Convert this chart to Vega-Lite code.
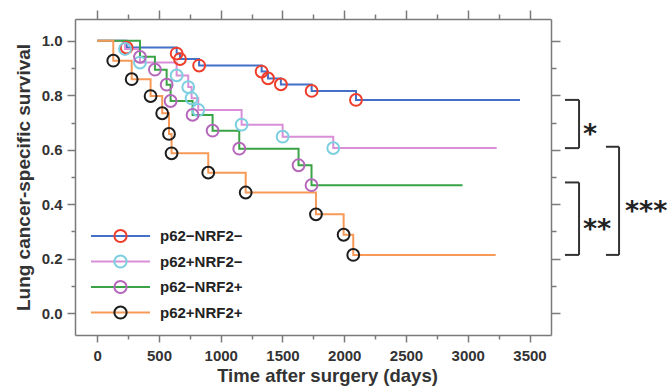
{
  "$schema": "https://vega.github.io/schema/vega-lite/v6.json",
  "width": 476,
  "height": 316,
  "autosize": {"type": "none"},
  "padding": {"left": 75, "top": 19, "right": 121, "bottom": 57},
  "background": "white",
  "config": {
    "view": {"stroke": null},
    "axis": {
      "grid": false,
      "domainColor": "#7a7a7a",
      "domainWidth": 1.5,
      "tickColor": "#7a7a7a",
      "tickWidth": 1.5,
      "labelFont": "Liberation Sans",
      "labelFontSize": 15,
      "labelFontWeight": "bold",
      "labelColor": "#333333",
      "labelFlush": false,
      "titleFont": "Liberation Sans",
      "titleFontWeight": "bold",
      "titleColor": "#333333"
    }
  },
  "datasets": {
    "km": [
      {"group": "p62−NRF2−", "t": 0, "s": 1.0, "ev": 0},
      {"group": "p62−NRF2−", "t": 238, "s": 0.975, "ev": 1},
      {"group": "p62−NRF2−", "t": 643, "s": 0.953, "ev": 1},
      {"group": "p62−NRF2−", "t": 670, "s": 0.933, "ev": 1},
      {"group": "p62−NRF2−", "t": 825, "s": 0.909, "ev": 1},
      {"group": "p62−NRF2−", "t": 1331, "s": 0.887, "ev": 1},
      {"group": "p62−NRF2−", "t": 1383, "s": 0.862, "ev": 1},
      {"group": "p62−NRF2−", "t": 1487, "s": 0.840, "ev": 1},
      {"group": "p62−NRF2−", "t": 1736, "s": 0.816, "ev": 1},
      {"group": "p62−NRF2−", "t": 2095, "s": 0.783, "ev": 1},
      {"group": "p62−NRF2−", "t": 3423, "s": 0.783, "ev": 0},
      {"group": "p62+NRF2−", "t": 0, "s": 1.0, "ev": 0},
      {"group": "p62+NRF2−", "t": 225, "s": 0.970, "ev": 1},
      {"group": "p62+NRF2−", "t": 346, "s": 0.920, "ev": 1},
      {"group": "p62+NRF2−", "t": 643, "s": 0.873, "ev": 1},
      {"group": "p62+NRF2−", "t": 737, "s": 0.830, "ev": 1},
      {"group": "p62+NRF2−", "t": 764, "s": 0.789, "ev": 1},
      {"group": "p62+NRF2−", "t": 818, "s": 0.746, "ev": 1},
      {"group": "p62+NRF2−", "t": 1169, "s": 0.692, "ev": 1},
      {"group": "p62+NRF2−", "t": 1501, "s": 0.648, "ev": 1},
      {"group": "p62+NRF2−", "t": 1911, "s": 0.606, "ev": 1},
      {"group": "p62+NRF2−", "t": 3234, "s": 0.606, "ev": 0},
      {"group": "p62−NRF2+", "t": 0, "s": 1.0, "ev": 0},
      {"group": "p62−NRF2+", "t": 346, "s": 0.941, "ev": 1},
      {"group": "p62−NRF2+", "t": 467, "s": 0.894, "ev": 1},
      {"group": "p62−NRF2+", "t": 562, "s": 0.839, "ev": 1},
      {"group": "p62−NRF2+", "t": 594, "s": 0.779, "ev": 1},
      {"group": "p62−NRF2+", "t": 772, "s": 0.728, "ev": 1},
      {"group": "p62−NRF2+", "t": 934, "s": 0.670, "ev": 1},
      {"group": "p62−NRF2+", "t": 1150, "s": 0.604, "ev": 1},
      {"group": "p62−NRF2+", "t": 1630, "s": 0.543, "ev": 1},
      {"group": "p62−NRF2+", "t": 1735, "s": 0.470, "ev": 1},
      {"group": "p62−NRF2+", "t": 2958, "s": 0.470, "ev": 0},
      {"group": "p62+NRF2+", "t": 0, "s": 1.0, "ev": 0},
      {"group": "p62+NRF2+", "t": 130, "s": 0.927, "ev": 1},
      {"group": "p62+NRF2+", "t": 279, "s": 0.859, "ev": 1},
      {"group": "p62+NRF2+", "t": 432, "s": 0.797, "ev": 1},
      {"group": "p62+NRF2+", "t": 526, "s": 0.734, "ev": 1},
      {"group": "p62+NRF2+", "t": 581, "s": 0.658, "ev": 1},
      {"group": "p62+NRF2+", "t": 602, "s": 0.587, "ev": 1},
      {"group": "p62+NRF2+", "t": 899, "s": 0.516, "ev": 1},
      {"group": "p62+NRF2+", "t": 1202, "s": 0.443, "ev": 1},
      {"group": "p62+NRF2+", "t": 1771, "s": 0.363, "ev": 1},
      {"group": "p62+NRF2+", "t": 1995, "s": 0.288, "ev": 1},
      {"group": "p62+NRF2+", "t": 2073, "s": 0.214, "ev": 1},
      {"group": "p62+NRF2+", "t": 3226, "s": 0.214, "ev": 0}
    ],
    "br": [
      {"id": "a", "stars": "*", "top": 0.783, "bottom": 0.606},
      {"id": "b", "stars": "**", "top": 0.48, "bottom": 0.214},
      {"id": "c", "stars": "***", "top": 0.611, "bottom": 0.214}
    ]
  },
  "layer": [
    {
      "data": {"name": "km"},
      "mark": {"type": "line", "interpolate": "step-after", "strokeWidth": 2},
      "encoding": {
        "x": {
          "field": "t", "type": "quantitative",
          "scale": {"domain": [-180, 3674], "nice": false, "zero": false},
          "axis": {"orient": "bottom", "values": [0, 500, 1000, 1500, 2000, 2500, 3000, 3500], "format": "d", "tickSize": 7, "labelPadding": 6, "title": "Time after surgery (days)", "titleFontSize": 18.5, "titlePadding": 3, "titleX": 252}
        },
        "y": {
          "field": "s", "type": "quantitative",
          "scale": {"domain": [-0.08, 1.08], "nice": false, "zero": false},
          "axis": {"orient": "left", "values": [0, 0.2, 0.4, 0.6, 0.8, 1.0], "format": ".1f", "tickSize": 8, "labelPadding": 5, "title": "Lung cancer-specific survival", "titleFontSize": 19, "titlePadding": 8}
        },
        "color": {
          "field": "group", "type": "nominal",
          "scale": {"domain": ["p62−NRF2−", "p62+NRF2−", "p62−NRF2+", "p62+NRF2+"], "range": ["#4470c8", "#d88fd8", "#3aa346", "#f79a58"]},
          "legend": {"orient": "none", "legendX": 38, "legendY": 209.5, "title": null, "direction": "vertical", "padding": 0, "symbolType": "M-4.82,0H4.82", "symbolSize": 150, "symbolStrokeWidth": 2, "labelExpr": "''", "labelFont": "Liberation Sans", "labelFontSize": 15, "labelFontWeight": "bold", "labelOffset": 32, "rowPadding": 9.5}
        }
      }
    },
    {
      "data": {"name": "km"},
      "transform": [{"filter": "datum.ev == 1"}],
      "mark": {"type": "point", "filled": false, "size": 140, "strokeWidth": 2, "opacity": 1},
      "encoding": {
        "x": {
          "field": "t", "type": "quantitative",
          "scale": {"domain": [-180, 3674], "nice": false, "zero": false},
          "axis": {"orient": "top", "values": [0, 500, 1000, 1500, 2000, 2500, 3000, 3500], "tickSize": 9, "labels": false, "title": null}
        },
        "y": {
          "field": "s", "type": "quantitative",
          "scale": {"domain": [-0.08, 1.08], "nice": false, "zero": false},
          "axis": {"orient": "right", "values": [0, 0.2, 0.4, 0.6, 0.8, 1.0], "tickSize": 9, "labels": false, "title": null}
        },
        "stroke": {
          "field": "group", "type": "nominal",
          "sort": ["p62−NRF2−", "p62+NRF2−", "p62−NRF2+", "p62+NRF2+"],
          "scale": {"range": ["#ee3d2b", "#7ccfe0", "#b567bb", "#1d1d1d"]},
          "legend": {"orient": "none", "legendX": 38, "legendY": 209.5, "title": null, "direction": "vertical", "padding": 0, "symbolType": "circle", "symbolSize": 150, "symbolStrokeWidth": 2, "labelFont": "Liberation Sans", "labelFontSize": 15, "labelFontWeight": "bold", "labelColor": "#222222", "labelOffset": 32, "rowPadding": 4.5}
        }
      }
    },
    {
      "data": {"name": "br"},
      "transform": [{"filter": "datum.id != 'c'"}],
      "mark": {"type": "rule", "strokeWidth": 2, "color": "#333333"},
      "encoding": {
        "x": {
          "datum": 3901, "type": "quantitative",
          "scale": {"domain": [-180, 3674], "nice": false, "zero": false},
          "axis": {"orient": "bottom", "values": [250, 750, 1250, 1750, 2250, 2750, 3250], "tickSize": 4, "labels": false, "domain": false, "title": null}
        },
        "y": {
          "field": "top", "type": "quantitative",
          "scale": {"domain": [-0.08, 1.08], "nice": false, "zero": false},
          "axis": {"orient": "left", "values": [0.1, 0.3, 0.5, 0.7, 0.9], "tickSize": 4, "labels": false, "domain": false, "title": null}
        },
        "y2": {"field": "bottom"}
      }
    },
    {
      "data": {"name": "br"},
      "transform": [{"filter": "datum.id == 'c'"}],
      "mark": {"type": "rule", "strokeWidth": 2, "color": "#333333"},
      "encoding": {
        "x": {
          "datum": 4225, "type": "quantitative",
          "scale": {"domain": [-180, 3674], "nice": false, "zero": false},
          "axis": {"orient": "top", "values": [250, 750, 1250, 1750, 2250, 2750, 3250], "tickSize": 5, "labels": false, "domain": false, "title": null}
        },
        "y": {
          "field": "top", "type": "quantitative",
          "scale": {"domain": [-0.08, 1.08], "nice": false, "zero": false},
          "axis": {"orient": "right", "values": [0.1, 0.3, 0.5, 0.7, 0.9], "tickSize": 5, "labels": false, "domain": false, "title": null}
        },
        "y2": {"field": "bottom"}
      }
    },
    {
      "data": {"name": "br"},
      "transform": [{"filter": "datum.id != 'c'"}, {"fold": ["top", "bottom"], "as": ["k", "v"]}],
      "mark": {"type": "rule", "strokeWidth": 2, "color": "#333333"},
      "encoding": {
        "x": {"datum": 3787, "type": "quantitative", "scale": {"domain": [-180, 3674], "nice": false, "zero": false}, "axis": null},
        "x2": {"datum": 3901},
        "y": {"field": "v", "type": "quantitative", "scale": {"domain": [-0.08, 1.08], "nice": false, "zero": false}, "axis": null}
      }
    },
    {
      "data": {"name": "br"},
      "transform": [{"filter": "datum.id == 'c'"}, {"fold": ["top", "bottom"], "as": ["k", "v"]}],
      "mark": {"type": "rule", "strokeWidth": 2, "color": "#333333"},
      "encoding": {
        "x": {"datum": 4119, "type": "quantitative", "scale": {"domain": [-180, 3674], "nice": false, "zero": false}, "axis": null},
        "x2": {"datum": 4225},
        "y": {"field": "v", "type": "quantitative", "scale": {"domain": [-0.08, 1.08], "nice": false, "zero": false}, "axis": null}
      }
    },
    {
      "data": {"name": "br"},
      "transform": [{"filter": "datum.id != 'c'"}, {"fold": ["top", "bottom"], "as": ["k", "v"]}],
      "mark": {"type": "text", "align": "left", "baseline": "alphabetic", "dy": 19, "font": "DejaVu Sans", "fontWeight": "bold", "fontSize": 27, "color": "#222222"},
      "encoding": {
        "x": {"datum": 3933, "type": "quantitative", "scale": {"domain": [-180, 3674], "nice": false, "zero": false}, "axis": null},
        "y": {"field": "v", "aggregate": "mean", "type": "quantitative", "scale": {"domain": [-0.08, 1.08], "nice": false, "zero": false}, "axis": null},
        "text": {"field": "stars", "type": "nominal"}
      }
    },
    {
      "data": {"name": "br"},
      "transform": [{"filter": "datum.id == 'c'"}, {"fold": ["top", "bottom"], "as": ["k", "v"]}],
      "mark": {"type": "text", "align": "left", "baseline": "alphabetic", "dy": 19, "font": "DejaVu Sans", "fontWeight": "bold", "fontSize": 27, "color": "#222222"},
      "encoding": {
        "x": {"datum": 4273, "type": "quantitative", "scale": {"domain": [-180, 3674], "nice": false, "zero": false}, "axis": null},
        "y": {"field": "v", "aggregate": "mean", "type": "quantitative", "scale": {"domain": [-0.08, 1.08], "nice": false, "zero": false}, "axis": null},
        "text": {"field": "stars", "type": "nominal"}
      }
    }
  ],
  "resolve": {"axis": {"x": "independent", "y": "independent"}}
}
